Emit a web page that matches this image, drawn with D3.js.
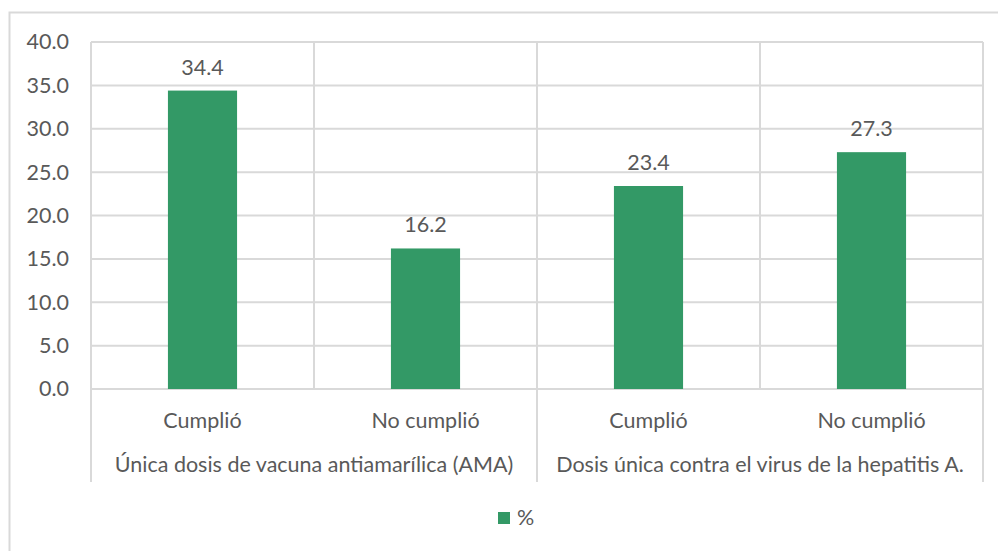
<!DOCTYPE html>
<html>
<head>
<meta charset="utf-8">
<script src="https://cdn.jsdelivr.net/npm/d3@7"></script>
<style>
  html, body { margin: 0; padding: 0; background: #fff; }
  svg { display: block; font-family: Lato, "Noto Sans", sans-serif; }
</style>
</head>
<body>
<svg id="chart" width="998" height="551"></svg>
<script>
// Vaccination compliance (%) by vaccine and status
const groups = ["Única dosis de vacuna antiamarílica (AMA)", "Dosis única contra el virus de la hepatitis A."];
const statuses = ["Cumplió", "No cumplió"];
const categories = ["AMA|Cumplió", "AMA|No cumplió", "HepA|Cumplió", "HepA|No cumplió"];
const categoryGroup = [0, 0, 1, 1];
const categoryStatus = [0, 1, 0, 1];
const values = [34.4, 16.2, 23.4, 27.3];
const yTicks = [0, 5, 10, 15, 20, 25, 30, 35, 40];
const seriesName = "%";

const svg = d3.select("#chart");
const W = 998, H = 551;
const plot = { left: 91, right: 983, top: 42, bottom: 389 };
const axisBottom = 482;
const gridColor = "#d9d9d9";
const textColor = "#595959";
const barColor = "#339966";
const fontSize = "21.5px";

// outer chart border
svg.append("rect")
  .attr("x", 9.5).attr("y", 12.5)
  .attr("width", W + 20).attr("height", H + 20)
  .attr("fill", "#fff").attr("stroke", gridColor).attr("stroke-width", 2);

const x = d3.scaleBand()
  .domain(categories)
  .range([plot.left, plot.right])
  .paddingInner(0.69)
  .paddingOuter(0.345);

const y = d3.scaleLinear().domain([0, 40]).range([plot.bottom, plot.top]);

// horizontal gridlines
svg.append("g").selectAll("line").data(yTicks).join("line")
  .attr("x1", plot.left).attr("x2", plot.right)
  .attr("y1", d => y(d)).attr("y2", d => y(d))
  .attr("stroke", gridColor).attr("stroke-width", 2);

// category boundaries
const step = x.step();
const boundaries = d3.range(categories.length + 1).map(i => plot.left + i * step);
svg.append("g").selectAll("line").data(boundaries).join("line")
  .attr("x1", d => d).attr("x2", d => d)
  .attr("y1", plot.top)
  .attr("y2", (d, i) => (i % 2 === 0) ? axisBottom : plot.bottom)
  .attr("stroke", gridColor).attr("stroke-width", 2);

// y axis labels
const yAxis = d3.axisLeft(y).tickValues(yTicks).tickFormat(d3.format(".1f")).tickSize(0).tickPadding(22);
const ya = svg.append("g").attr("transform", `translate(${plot.left},0)`).call(yAxis);
ya.select(".domain").remove();
ya.selectAll("text").attr("fill", textColor).style("font-size", fontSize).style("font-family", "Lato, sans-serif");

// bars
svg.append("g").selectAll("rect").data(values).join("rect")
  .attr("x", (d, i) => x(categories[i]))
  .attr("width", x.bandwidth())
  .attr("y", d => y(d))
  .attr("height", d => y(0) - y(d))
  .attr("fill", barColor);

// value labels
svg.append("g").selectAll("text").data(values).join("text")
  .attr("x", (d, i) => x(categories[i]) + x.bandwidth() / 2)
  .attr("y", d => y(d) - 16)
  .attr("text-anchor", "middle")
  .attr("fill", textColor)
  .style("font-size", fontSize)
  .text(d => d3.format(".1f")(d));

// status labels
svg.append("g").selectAll("text").data(categories).join("text")
  .attr("x", d => x(d) + x.bandwidth() / 2)
  .attr("y", 428)
  .attr("text-anchor", "middle")
  .attr("fill", textColor)
  .style("font-size", fontSize)
  .text((d, i) => statuses[categoryStatus[i]]);

// group labels
svg.append("g").selectAll("text").data(groups).join("text")
  .attr("x", (d, gi) => {
    const idx = categoryGroup.map((g, i) => g === gi ? i : -1).filter(i => i >= 0);
    return (boundaries[idx[0]] + boundaries[idx[idx.length - 1] + 1]) / 2;
  })
  .attr("y", 472)
  .attr("text-anchor", "middle")
  .attr("fill", textColor)
  .style("font-size", fontSize)
  .text(d => d);

// legend
const legend = svg.append("g").attr("transform", "translate(498,512)");
legend.append("rect").attr("width", 12).attr("height", 12).attr("fill", barColor);
legend.append("text").attr("x", 19).attr("y", 13).attr("fill", textColor)
  .style("font-size", fontSize).text(seriesName);
</script>
</body>
</html>
